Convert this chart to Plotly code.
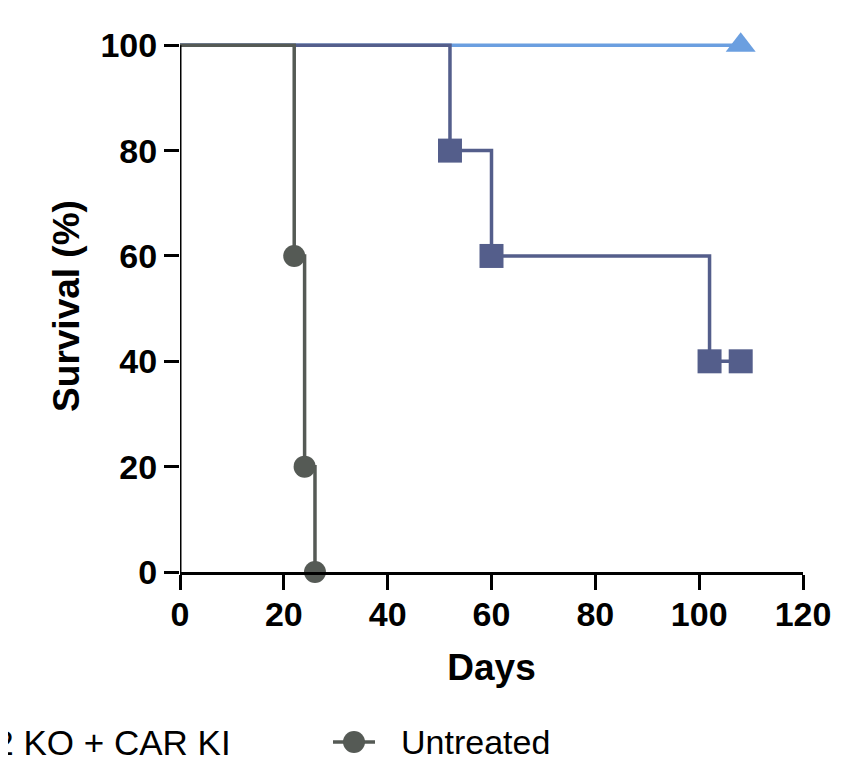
import plotly.graph_objects as go

# ---- data ----
names = ["AAVS1 KO + CAR KI", "RASA2 KO + CAR KI", "Untreated"]
colors = ["#6b9fe0", "#545e8b", "#555a55"]
symbols = ["triangle-up", "square", "circle"]
marker_sizes = [26, 24, 22]

days_a = [0, 108]
surv_a = [100, 100]

days_b = [0, 52, 60, 102, 108]
surv_b = [100, 80, 60, 40, 40]

days_c = [0, 22, 24, 26]
surv_c = [100, 60, 20, 0]

x_ticks = [0, 20, 40, 60, 80, 100, 120]
y_ticks = [0, 20, 40, 60, 80, 100]

series = [(days_a, surv_a), (days_b, surv_b), (days_c, surv_c)]

FONT = "Liberation Sans, Arial, Helvetica, sans-serif"

fig = go.Figure()
for (d, s), name, col, sym, ms in zip(series, names, colors, symbols, marker_sizes):
    fig.add_trace(go.Scatter(
        x=d, y=s, mode="lines", line=dict(color=col, width=3.5, shape="hv"),
        name=name, showlegend=False, hoverinfo="skip"))
    fig.add_trace(go.Scatter(
        x=d[1:], y=s[1:], mode="markers",
        marker=dict(symbol=sym, size=ms, color=col, line=dict(width=0)),
        name=name, showlegend=False, cliponaxis=False))

# geometry helpers (page pixels; the page body has an 8px margin)
OFF = 8
W, H = 837, 754
ML, MR, MT, MB = 172, 42, 32, 190
PW = W - ML - MR
PH = H - MT - MB


def px_x(p):
    return (p - OFF - ML) / PW


def px_y(p):
    return (H - MB - (p - OFF)) / PH


fig.update_layout(
    width=W, height=H,
    margin=dict(l=ML, r=MR, t=MT, b=MB),
    paper_bgcolor="white", plot_bgcolor="white",
    font=dict(family=FONT, color="black"),
    showlegend=False,
    xaxis=dict(
        range=[0, 120], tickvals=x_ticks, ticktext=[str(v) for v in x_ticks],
        showgrid=False, zeroline=False, showline=True, linecolor="black", linewidth=3,
        ticks="outside", ticklen=15, tickwidth=3, tickcolor="black",
        ticklabelstandoff=-5,
        tickfont=dict(family=FONT, size=34, weight="bold", color="black"),
        title=dict(text="Days", font=dict(family=FONT, size=37, weight="bold", color="black"),
                   standoff=23),
    ),
    yaxis=dict(
        range=[0, 101], tickvals=y_ticks, ticktext=[str(v) for v in y_ticks],
        showgrid=False, zeroline=False, showline=False,
        ticks="outside", ticklen=15, tickwidth=3, tickcolor="black",
        tickfont=dict(family=FONT, size=34, weight="bold", color="black"),
        title=dict(text="Survival (%)", font=dict(family=FONT, size=37, weight="bold", color="black"),
                   standoff=9),
    ),
)

# y axis line (stops at 100)
fig.add_shape(type="line", xref="x", yref="y", x0=0, x1=0, y0=0, y1=y_ticks[-1],
              line=dict(color="black", width=3), layer="above")

# legend row (partially off-canvas, as in the reference)
leg_y = px_y(742)
fig.add_annotation(xref="paper", yref="paper", x=px_x(233), y=leg_y, xanchor="right",
                   yanchor="middle", text=names[1], showarrow=False,
                   font=dict(family=FONT, size=35, color="black"))
fig.add_shape(type="line", xref="paper", yref="paper", xsizemode="pixel", ysizemode="pixel",
              xanchor=px_x(354), yanchor=leg_y, x0=-21, x1=21, y0=0, y1=0,
              line=dict(color=colors[2], width=3.5))
fig.add_shape(type="circle", xref="paper", yref="paper", xsizemode="pixel", ysizemode="pixel",
              xanchor=px_x(354), yanchor=leg_y, x0=-11, x1=11, y0=-11, y1=11,
              fillcolor=colors[2], line=dict(width=0))
fig.add_annotation(xref="paper", yref="paper", x=px_x(399), y=leg_y, xanchor="left",
                   yanchor="middle", text=names[2], showarrow=False,
                   font=dict(family=FONT, size=34, color="black"))

fig.write_html("out.html")
